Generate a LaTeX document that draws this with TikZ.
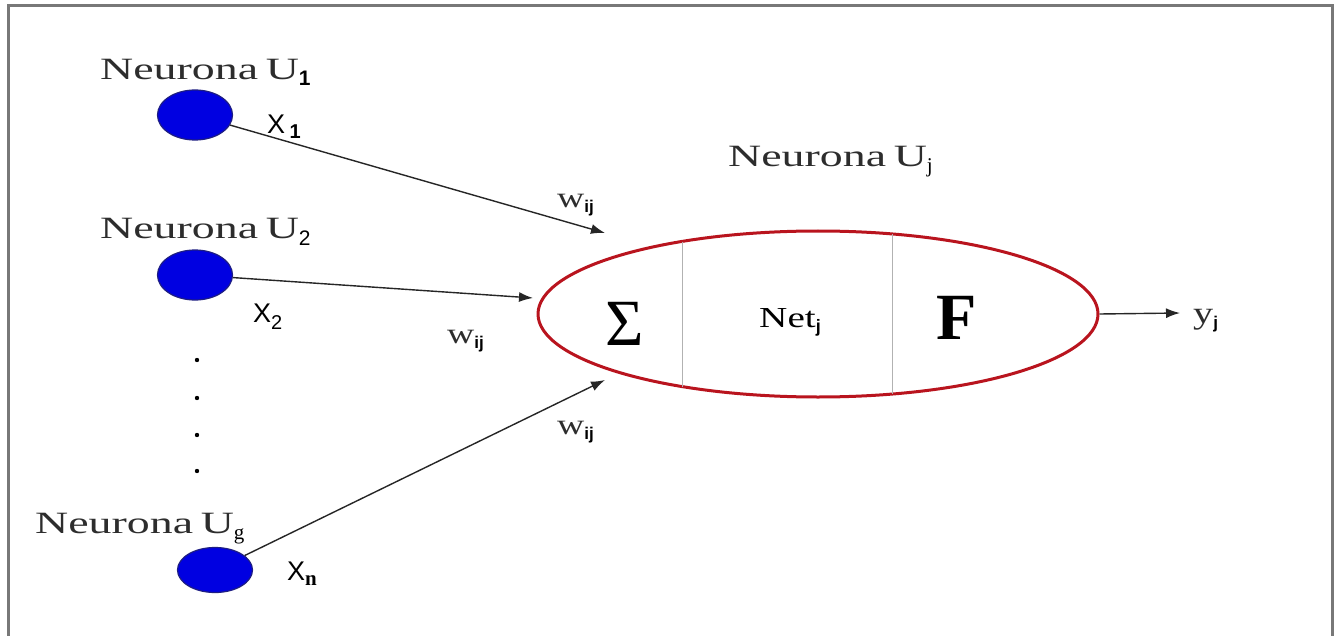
\documentclass[tikz,border=0pt]{standalone}
\usepackage{fontspec}
\usetikzlibrary{shapes.geometric,arrows.meta}
\newfontfamily\tms{Liberation Serif}
\newfontfamily\arl{Liberation Sans}
\definecolor{neublue}{RGB}{0,0,225}
\definecolor{neuedge}{RGB}{30,30,130}
\definecolor{bigred}{RGB}{185,20,30}
\definecolor{framegray}{RGB}{120,120,120}
\definecolor{txtgray}{RGB}{45,45,45}
\newcommand\neurtxt[1]{\textcolor{txtgray}{\scalebox{1.48}[1]{\tms\fontsize{31}{31}\selectfont Neurona\,U}}#1}
\newcommand\wlab{\textcolor{txtgray}{\scalebox{1.3}[1]{\tms\fontsize{29}{29}\selectfont w}}\raisebox{-5pt}{\arl\bfseries\fontsize{17}{17}\selectfont ij}}
\begin{document}
\begin{tikzpicture}[x=1pt,y=-1pt,
  neuron/.style={ellipse,draw=neuedge,fill=neublue,line width=1.2pt,minimum width=75pt,minimum height=50pt,inner sep=0pt},
  conn/.style={draw=black!85,line width=1.4pt,-{Latex[length=14pt,width=10pt]}},
  txt/.style={inner sep=0pt,anchor=base west}]
\useasboundingbox (0,0) rectangle (1337,636);
\fill[white] (0,0) rectangle (1337,636);
\draw[framegray,line width=3pt] (8,636) -- (8,6) -- (1332,6) -- (1332,636);

% input neurons
\node[neuron] (n1) at (195,115) {};
\node[neuron] (n2) at (195,275) {};
\node[neuron,minimum height=45pt] (nn) at (215,570) {};

\node[txt] (l1) at (100,80) {\neurtxt{\raisebox{-6pt}{\arl\bfseries\fontsize{21}{21}\selectfont 1}}};
\node[txt] (l2) at (100,238) {\neurtxt{\raisebox{-8pt}{\arl\fontsize{21}{21}\selectfont 2}}};
\node[txt] (lg) at (35,533) {\neurtxt{\raisebox{-6pt}{\tms\fontsize{21}{21}\selectfont g}}};

\node[txt] (x1) at (267,134) {\arl\fontsize{27}{27}\selectfont X\,\raisebox{-5pt}{\bfseries\fontsize{20}{20}\selectfont 1}};
\node[txt] (x2) at (253,322) {\arl\fontsize{27}{27}\selectfont X\raisebox{-7pt}{\fontsize{20}{20}\selectfont 2}};
\node[txt] (xn) at (287,580) {\arl\fontsize{27}{27}\selectfont X\raisebox{-5pt}{\tms\bfseries\fontsize{21}{21}\selectfont n}};

% dots
\foreach \yy/\nm in {360/d1,398/d2,435/d3,471/d4}
  \fill (197,\yy) circle (2.2pt) coordinate (\nm);

% big neuron
\node[ellipse,draw=bigred,line width=3pt,minimum width=560pt,minimum height=166pt,inner sep=0pt] (N) at (818,314) {};
\draw[gray!60,line width=0.8pt] (682,241.5) coordinate (s1) -- (682,386.5) coordinate (s2);
\draw[gray!60,line width=0.8pt] (892,234.5) coordinate (s3) -- (892,393.5) coordinate (s4);
\node (sig) at (625,324) {\tms\fontsize{66}{66}\selectfont Σ};
\node (net) at (790,322) {\scalebox{1.35}[1]{\tms\fontsize{29}{29}\selectfont Net}\raisebox{-5pt}{\arl\bfseries\fontsize{18}{18}\selectfont j}};
\node (F) at (957,318) {\tms\bfseries\fontsize{66}{66}\selectfont F};
\node[txt] (lj) at (728,167) {\neurtxt{\raisebox{-6pt}{\tms\fontsize{21}{21}\selectfont j}}};

% connectors
\coordinate (t1) at (605,233);
\coordinate (t2) at (533,298);
\coordinate (t3) at (605,380);
\coordinate (to) at (1180,313);
\draw[conn] (n1) -- (t1);
\draw[conn] (n2) -- (t2);
\draw[conn] (nn) -- (t3);
\draw[conn] (N.east) -- (to);

\node[txt] (w1) at (557,208) {\wlab};
\node[txt] (w2) at (447,343) {\wlab};
\node[txt] (w3) at (557,434) {\wlab};
\node[txt] (y) at (1193,323) {\textcolor{txtgray}{\scalebox{1.3}[1]{\tms\fontsize{31}{31}\selectfont y}}\raisebox{-5pt}{\arl\bfseries\fontsize{17}{17}\selectfont j}};
\end{tikzpicture}
\end{document}
